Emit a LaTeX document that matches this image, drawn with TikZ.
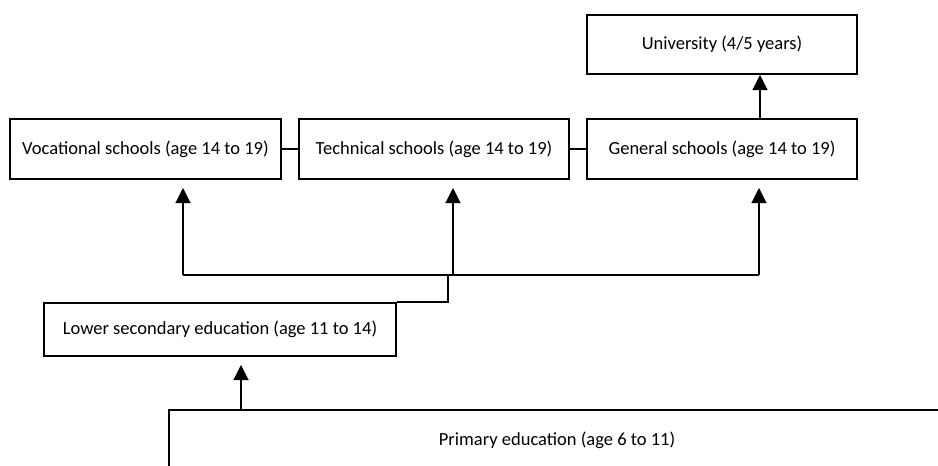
\documentclass[tikz,border=0pt]{standalone}
\usepackage{fontspec}
\setmainfont{Carlito}
\usetikzlibrary{arrows.meta,calc}
\begin{document}
\begin{tikzpicture}[x=1pt,y=-1pt,
  box/.style={draw, line width=2pt, inner sep=0pt, align=center, font=\fontsize{18.5}{22}\selectfont},
  link/.style={line width=1.1pt},
  arr/.style={line width=1.1pt, -{Triangle[width=15pt,length=15pt]}}]
\useasboundingbox (0,0) rectangle (938,466);
\clip (0,0) rectangle (938,466);
\node[box, minimum width=270pt, minimum height=59pt] (uni) at (722,44.5) {University (4/5 years)};
\node[box, minimum width=271pt, minimum height=60pt] (voc) at (145.5,149) {Vocational schools (age 14 to 19)};
\node[box, minimum width=270pt, minimum height=60pt] (tech) at (434,149) {Technical schools (age 14 to 19)};
\node[box, minimum width=270pt, minimum height=60pt] (gen) at (722,149) {General schools (age 14 to 19)};
\node[box, minimum width=352pt, minimum height=53pt] (sec) at (220,329.5) {Lower secondary education (age 11 to 14)};
\node[box, minimum width=776pt, minimum height=60pt] (prim) at (557,440) {Primary education (age 6 to 11)};
\coordinate (bv) at (183,275);
\coordinate (bt) at (453,275);
\coordinate (bg) at (759,275);
\coordinate (st) at (448,275);
\coordinate (pa) at (241,410);
\draw[link] (voc.east) -- (tech.west);
\draw[link] (tech.east) -- (gen.west);
\draw[arr] ($(gen.north)+(38,0)$) -- ($(uni.south)+(38,0)$);
\draw[link] (bv) -- (bg);
\draw[arr, shorten >=8pt] (bv) -- (bv |- voc.south);
\draw[arr, shorten >=8pt] (bt) -- (bt |- tech.south);
\draw[arr, shorten >=8pt] (bg) -- (bg |- gen.south);
\draw[link] (sec.north east) -| (st);
\draw[arr, shorten >=8pt] (pa) -- (pa |- sec.south);
\end{tikzpicture}
\end{document}
